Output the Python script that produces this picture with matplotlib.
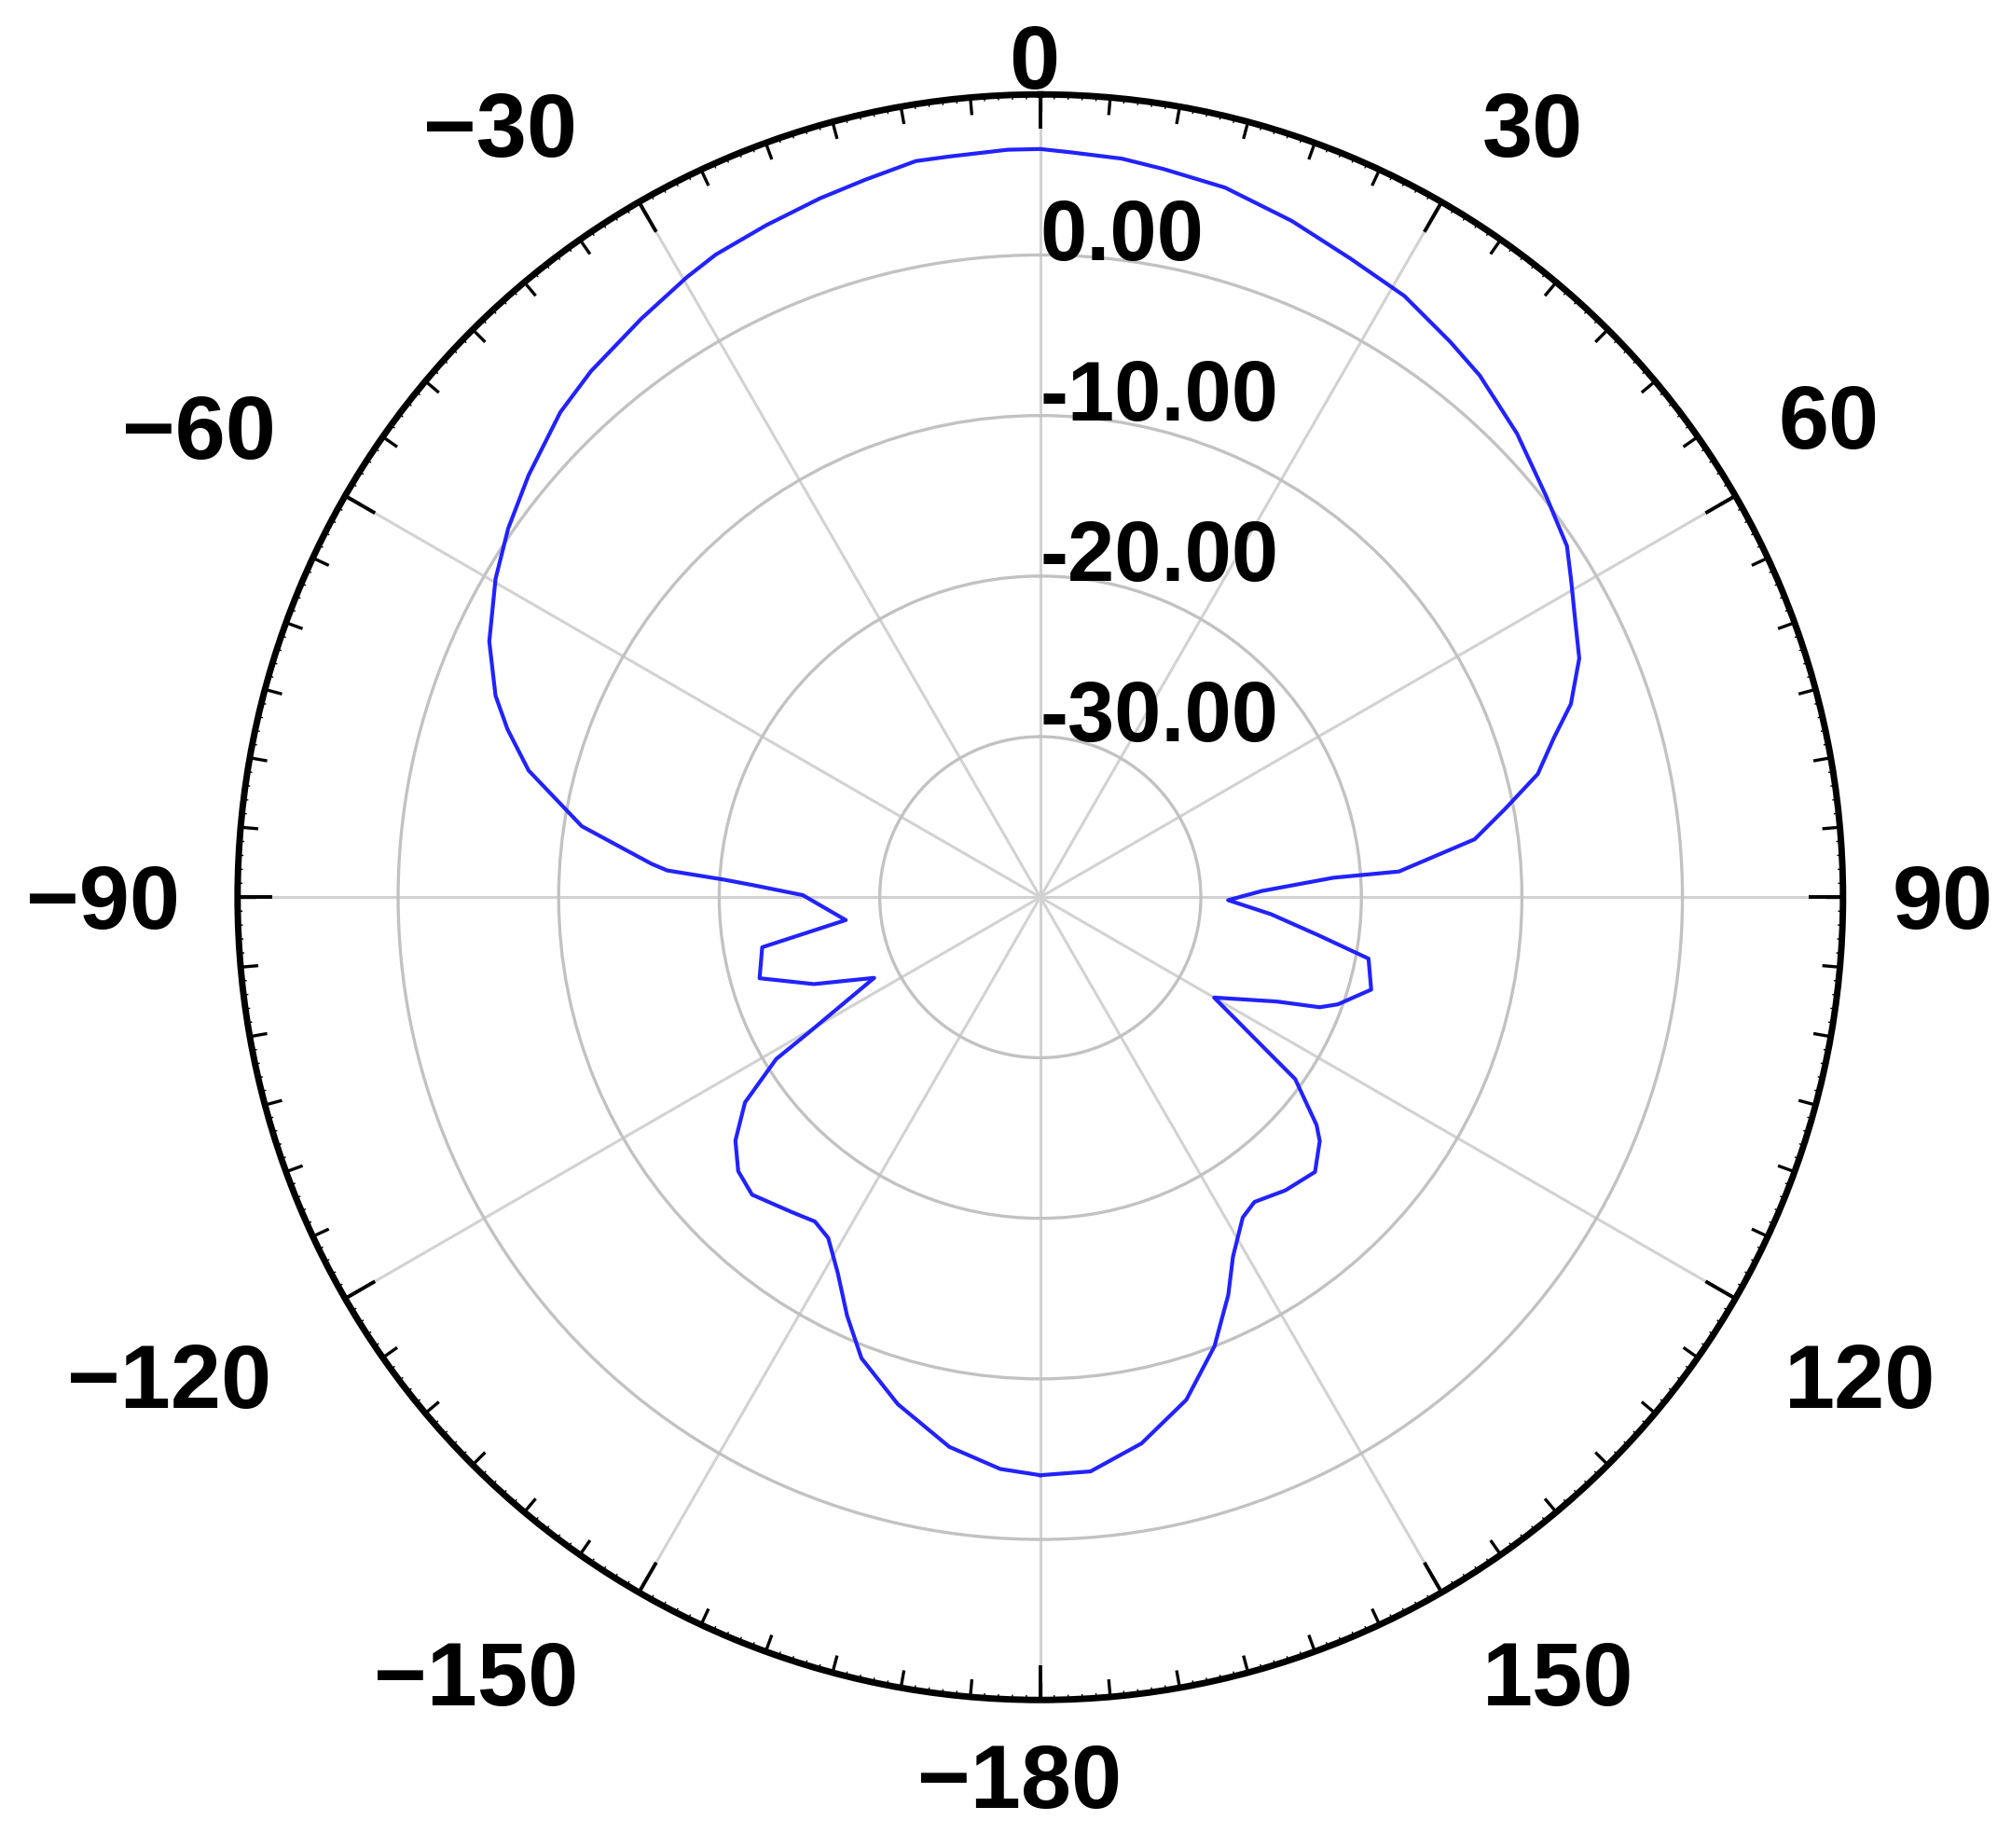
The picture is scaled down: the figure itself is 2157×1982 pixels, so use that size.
import numpy as np
import matplotlib.pyplot as plt

plt.rcParams['font.family'] = ['Liberation Sans', 'DejaVu Sans']

# 方向图数据 (角度: 度, 顺时针从正上方; 增益: dB)
theta_deg = [-180, -176, -170.6, -164.3, -158.8, -155.2, -151.7, -148.1, -145.2, -141.6,
             -135.9, -132.2, -128.6, -124.8, -121.5, -120.3, -115.9, -111.0, -106.1, -100.2,
             -96.7, -89.5, -87.6, -86.8, -85.9, -85.1, -81.2, -76.1, -72.5, -69.7,
             -65.1, -59.7, -55.3, -50.5, -44.7, -40.5, -34.6, -29.7, -26.8, -22.2,
             -17.5, -13.7, -9.6, -7.0, -2.5, 0, 2.4, 6.3, 9.6, 14.6,
             20.4, 25.9, 31.2, 36.4, 40.1, 45.8, 51.6, 56.3, 59.1, 62.7,
             66.1, 70.0, 72.7, 76.1, 79.2, 82.4, 85.9, 86.2, 88.4, 90.9,
             94.2, 97.8, 100.6, 105.6, 109.8, 111.5, 113.8, 120.0, 124.4, 125.5,
             129.5, 131.1, 135.0, 140.1, 144.9, 147.7, 151.8, 154.7, 158.8, 163.8,
             169.5, 175.0, 180]
gain_db = [-4.0, -4.3, -5.3, -7.2, -9.2, -11.3, -13.4, -15.0, -15.4, -15.0,
           -14.2, -14.6, -15.7, -17.6, -20.7, -23.3, -28.5, -24.9, -21.8, -22.4,
           -27.8, -25.2, -22.1, -20.2, -16.7, -15.7, -11.1, -7.17, -5.2, -3.82,
           -2.16, -0.70, 0.32, 1.31, 2.5, 3.09, 3.77, 4.45, 4.84, 5.2,
           5.64, 6.0, 6.5, 6.48, 6.6, 6.6, 6.43, 6.28, 6.0, 5.67,
           4.94, 4.22, 3.78, 3.0, 2.49, 1.42, 0.21, -0.57, -1.47, -2.5,
           -3.28, -4.83, -6.47, -8.08, -10.5, -12.7, -17.6, -21.7, -26.2, -28.3,
           -25.6, -22.5, -19.2, -18.6, -20.3, -21.3, -23.9, -27.5, -22.5, -20.5,
           -17.7, -16.9, -15.8, -16.2, -16.8, -16.4, -14.6, -12.6, -10.0, -7.4,
           -5.4, -4.1, -4.0]

r_ticks = [0, -10, -20, -30]
r_labels = ['0.00', '-10.00', '-20.00', '-30.00']

angle_labels = ['0', '30', '60', '90', '120', '150', '\u2212180',
                '\u2212150', '\u2212120', '\u221290', '\u221260', '\u221230']
# 标签位置 (参考图像素, 1568x1441 缩略图坐标, 基线)
label_pos = [(806, 69), (1195, 122), (1426, 350), (1515, 724), (1450, 1098), (1215, 1330),
             (795, 1410), (371, 1330), (132, 1098), (80, 724), (155, 358), (390, 122)]

fig = plt.figure(figsize=(21.57, 19.82), dpi=100)
ax = fig.add_axes([0.1181, 0.0801, 0.7984, 0.8688], projection='polar')
ax.set_theta_zero_location('N')
ax.set_theta_direction(-1)
ax.set_ylim(-40, 10)

ax.set_yticks(r_ticks)
ax.set_yticklabels([])
ax.set_xticks(np.deg2rad(np.arange(0, 360, 30)))
ax.set_xticklabels([])
ax.xaxis.grid(True, color='#d2d2d2', lw=2.2)
ax.yaxis.grid(True, color='#c2c2c2', lw=2.4)
ax.tick_params(axis='both', length=0)
ax.spines['polar'].set_linewidth(5)

# 外圈刻度: 30度长刻度, 5度中刻度, 1度小刻度
ax.vlines(np.deg2rad(np.arange(0, 360, 1)), 9.7, 10, color='black', lw=1.0)
ax.vlines(np.deg2rad(np.arange(0, 360, 5)), 8.9, 10, color='black', lw=2.4)
ax.vlines(np.deg2rad(np.arange(0, 360, 30)), 7.85, 10, color='black', lw=2.8)

# 方向图曲线
ax.plot(np.deg2rad(theta_deg), gain_db, color='#2222ff', lw=3.0, zorder=5)

# 径向标签
for v, s in zip(r_ticks, r_labels):
    ax.text(0, v - 0.3, s, ha='left', va='baseline', fontsize=65, fontweight='bold', zorder=6)

# 角度标签
for s, (px, py) in zip(angle_labels, label_pos):
    fig.text(px / 1568, 1 - py / 1441, s, ha='center', va='baseline', fontsize=70, fontweight='bold')

fig.savefig('out.png', dpi=100, facecolor='white')
